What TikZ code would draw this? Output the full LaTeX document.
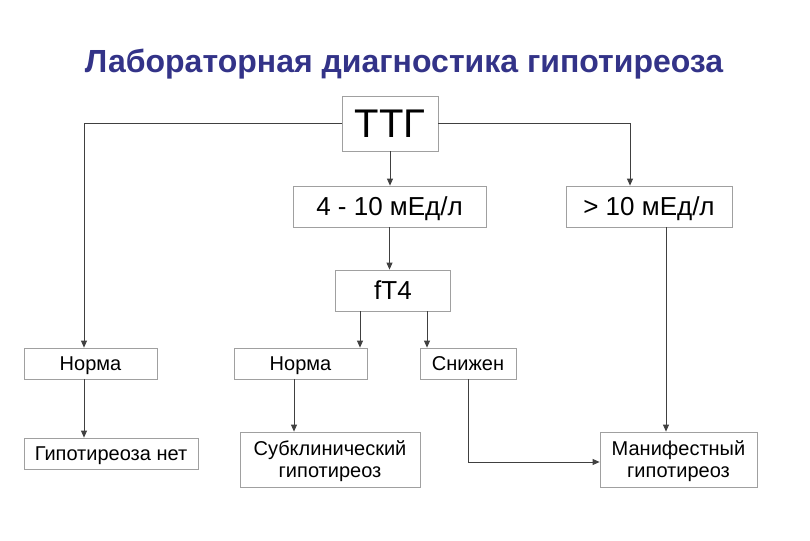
\documentclass[tikz,border=0pt]{standalone}
\usepackage{fontspec}
\setmainfont{Liberation Sans}
\usetikzlibrary{arrows.meta}
\definecolor{titleblue}{HTML}{333388}
\definecolor{boxgray}{HTML}{A0A0A0}
\definecolor{linegray}{HTML}{404040}
\tikzset{
	labbox/.style={draw=boxgray,line width=0.8pt,inner sep=0pt,align=center,text depth=0pt},
	arr/.style={draw=linegray,line width=0.8pt,-{Triangle[width=6pt,length=7pt]}}
}
\begin{document}
\begin{tikzpicture}[x=1pt,y=-1pt]
		\useasboundingbox (0,0) rectangle (810,540);
		\node[anchor=base,text=titleblue,font=\fontsize{32}{36}\selectfont\bfseries] (title) at (404,73) {Лабораторная диагностика гипотиреоза};
		\node[labbox,minimum width=96pt,minimum height=55pt,font=\fontsize{40}{44}\selectfont] (ttg) at (390,123.5) {ТТГ};
		\node[labbox,minimum width=193pt,minimum height=41pt,font=\fontsize{26}{30}\selectfont] (mid) at (389.5,206.5) {4 - 10 мЕд/л};
		\node[labbox,minimum width=166pt,minimum height=41pt,font=\fontsize{26}{30}\selectfont] (high) at (649,206.5) {> 10 мЕд/л};
		\node[labbox,minimum width=115pt,minimum height=41pt,font=\fontsize{26}{30}\selectfont] (ft4) at (393,290.5) {fT4};
		\node[labbox,minimum width=133pt,minimum height=31pt,font=\fontsize{20}{22}\selectfont] (norm1) at (90.5,363.5) {Норма};
		\node[labbox,minimum width=174pt,minimum height=31pt,font=\fontsize{20}{22}\selectfont] (none) at (111,453.5) {Гипотиреоза нет};
		\node[labbox,minimum width=133pt,minimum height=31pt,font=\fontsize{20}{22}\selectfont] (norm2) at (300.5,363.5) {Норма};
		\node[labbox,minimum width=96pt,minimum height=31pt,font=\fontsize{20}{22}\selectfont] (low) at (468,363.5) {Снижен};
		\node[labbox,minimum width=180pt,minimum height=55pt,font=\fontsize{20}{22}\selectfont] (subcl) at (330,459.5) {Субклинический\\гипотиреоз};
		\node[labbox,minimum width=157pt,minimum height=55pt,font=\fontsize{20}{22}\selectfont] (manif) at (678.5,459.5) {Манифестный\\гипотиреоз};
		\draw[arr] (ttg.west) -| ([xshift=-6.5pt]norm1.north);
		\draw[arr] (ttg.east) -| ([xshift=-19pt]high.north);
		\draw[arr] (ttg.south) -- (ttg.south |- mid.north);
		\draw[arr] (mid.south) -- (mid.south |- ft4.north);
		\draw[arr] ([xshift=-33pt]ft4.south) -- ([xshift=-33pt]ft4.south |- norm2.north);
		\draw[arr] ([xshift=34pt]ft4.south) -- ([xshift=34pt]ft4.south |- low.north);
		\draw[arr] ([xshift=-6.5pt]norm1.south) -- ([xshift=-6.5pt]norm1.south |- none.north);
		\draw[arr] ([xshift=-6.5pt]norm2.south) -- ([xshift=-6.5pt]norm2.south |- subcl.north);
		\draw[arr] ([xshift=17pt]high.south) -- ([xshift=17pt]high.south |- manif.north);
		\draw[arr] (low.south) |- ([yshift=-2.5pt]manif.west);
	\end{tikzpicture}
\end{document}
